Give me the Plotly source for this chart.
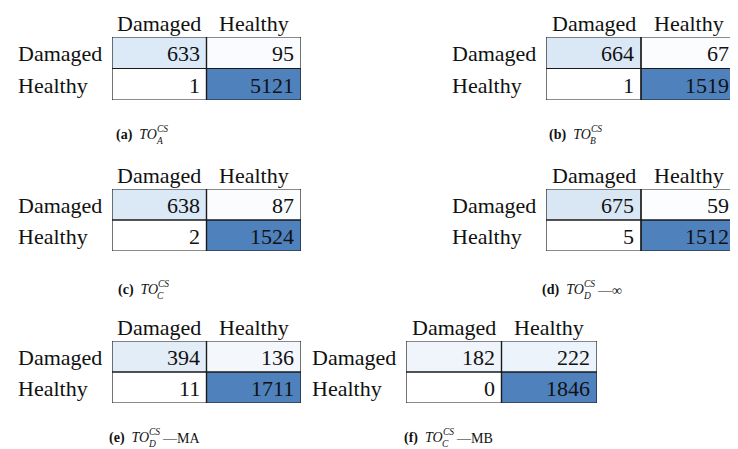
import plotly.graph_objects as go

W, H = 738, 449

# ---------------- data ----------------
class_labels = ["Damaged", "Healthy"]
cm_a = [[633, 95], [1, 5121]]
cm_b = [[664, 67], [1, 1519]]
cm_c = [[638, 87], [2, 1524]]
cm_d = [[675, 59], [5, 1512]]
cm_e = [[394, 136], [11, 1711]]
cm_f = [[182, 222], [0, 1846]]
matrices = [cm_a, cm_b, cm_c, cm_d, cm_e, cm_f]
panel_tags = ["a", "b", "c", "d", "e", "f"]
panel_subscripts = ["A", "B", "C", "D", "D", "C"]
panel_suffixes = ["", "", "", "—∞", "—MA", "—MB"]

# ---------------- layout (pixels) ----------------
boxes = [(104, 293, 29, 92), (538, 728, 29, 92),
         (104, 293, 181, 243), (538, 728, 181, 243),
         (104, 293, 333, 395), (398, 589, 333, 395)]
cap_pos = [(151, 127), (585, 127), (152, 282), (578, 282), (143, 430), (437, 430)]

FONT = "Liberation Serif"
FS = 22
colorscale = [[0.0, "#ffffff"], [0.1, "#fbfcfe"], [0.26, "#f4f8fc"], [0.5, "#eef4fa"],
              [0.74, "#e3edf8"], [0.92, "#d9e7f5"], [0.99, "#4f81bd"], [1.0, "#4f81bd"]]


def X(px):
    return px / W


def Y(py):
    return 1 - py / H


fig = go.Figure()
layout = dict(width=W, height=H, margin=dict(l=0, r=0, t=0, b=0),
              paper_bgcolor="white", plot_bgcolor="white", showlegend=False)
shapes, annotations = [], []

for i, cm in enumerate(matrices):
    n = "" if i == 0 else str(i + 1)
    xa, ya = "x" + n, "y" + n
    z = [[v / sum(row) for v in row] for row in cm]
    fig.add_trace(go.Heatmap(z=z, x=[0, 1], y=[0, 1], xaxis=xa, yaxis=ya,
                             colorscale=colorscale, zmin=0, zmax=1,
                             showscale=False, hoverinfo="skip"))
    l, r, t, b = boxes[i]
    layout["xaxis" + n] = dict(domain=[X(l), X(r)], range=[-0.5, 1.5], visible=False,
                               fixedrange=True)
    layout["yaxis" + n] = dict(domain=[Y(b), Y(t)], range=[1.5, -0.5], visible=False,
                               fixedrange=True)
    for ri in range(2):
        for ci in range(2):
            shapes.append(dict(type="rect", xref=xa, yref=ya,
                               x0=ci - 0.5, x1=ci + 0.5, y0=ri - 0.5, y1=ri + 0.5,
                               line=dict(color="#1a1a1a", width=1.2), layer="above"))
            annotations.append(dict(x=ci + 0.5, y=ri, xref=xa, yref=ya, text=str(cm[ri][ci]),
                                    xanchor="right", yanchor="middle", xshift=-5, yshift=-1,
                                    showarrow=False, font=dict(family=FONT, size=FS, color="#111")))
    for ci, lab in enumerate(class_labels):
        annotations.append(dict(x=ci, y=-0.5, xref=xa, yref=ya, text=lab,
                                xanchor="center", yanchor="bottom", yshift=-1,
                                showarrow=False, font=dict(family=FONT, size=FS, color="#111")))
    for ri, lab in enumerate(class_labels):
        annotations.append(dict(x=-0.5, y=ri, xref=xa, yref=ya, text=lab,
                                xanchor="left", yanchor="middle", xshift=-96, yshift=-1,
                                showarrow=False, font=dict(family=FONT, size=FS, color="#111")))
    # caption
    tx, cy = cap_pos[i]
    cf = dict(family=FONT, size=14, color="#111")
    sf = dict(family=FONT, size=9.5, color="#111")
    annotations.append(dict(x=X(tx), y=Y(cy), xref="paper", yref="paper",
                            text=f"<b>({panel_tags[i]})</b>  <i>TO</i>",
                            xanchor="right", yanchor="middle", showarrow=False, font=cf))
    annotations.append(dict(x=X(tx - 3), y=Y(cy), xref="paper", yref="paper",
                            text="<i>CS</i>", xanchor="left", yanchor="bottom", borderpad=0,
                            showarrow=False, font=sf))
    annotations.append(dict(x=X(tx - 4), y=Y(cy), xref="paper", yref="paper",
                            text=f"<i>{panel_subscripts[i]}</i>", xanchor="left",
                            yanchor="top", borderpad=0, showarrow=False, font=sf))
    if panel_suffixes[i]:
        annotations.append(dict(x=X(tx + 9), y=Y(cy), xref="paper", yref="paper",
                                text=panel_suffixes[i], xanchor="left", yanchor="middle",
                                showarrow=False, font=cf))

layout["shapes"] = shapes
layout["annotations"] = annotations
fig.update_layout(**layout)
fig.write_html("out.html")
